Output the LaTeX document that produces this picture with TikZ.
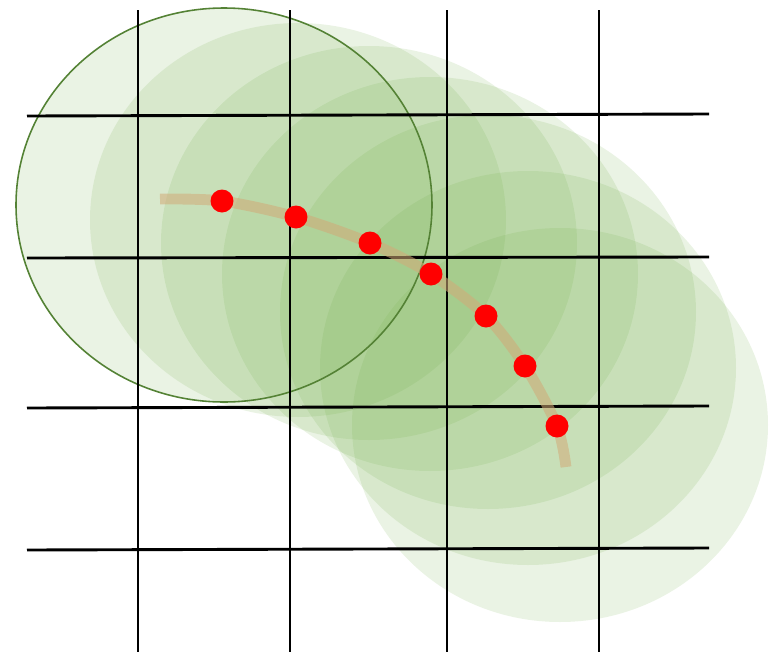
\documentclass[tikz,border=0pt]{standalone}
\usepackage{tikz}

\definecolor{leafgreen}{RGB}{112,173,71}
\definecolor{rimgreen}{RGB}{84,130,53}
\definecolor{pathtan}{RGB}{210,170,120}

\begin{document}
\begin{tikzpicture}[x=0.02cm, y=-0.02cm,
    halo/.style={fill=leafgreen, fill opacity=0.15},
    gridline/.style={black, line width=1.65pt},
    reddot/.style={circle, fill=red, inner sep=0pt, minimum size=0.46cm}]
        \useasboundingbox (0,0) rectangle (775,653);
        % receptive regions
        \foreach \cx/\cy in {224/205, 298/220, 369/243, 430/274, 488/312, 528/368, 560/425}
            \fill[halo] (\cx,\cy) ellipse [x radius=208, y radius=197];
        \draw[rimgreen, line width=0.9pt] (224,205) ellipse [x radius=208, y radius=197];
        % grid
        \foreach \gx in {138,290,447,599}
            \draw[gridline] (\gx,10) -- (\gx,652);
        \foreach \ly/\ry in {116/114, 258/257, 408/406, 550/548}
            \draw[gridline] (27,\ly) -- (709,\ry);
        % trajectory
        \draw[pathtan, opacity=0.55, line width=6.2pt] plot[smooth] coordinates
            {(160,199) (222,201) (296,217) (370,243) (431,274) (486,316) (525,366) (557,426) (566,467)};
        \foreach \px/\py [count=\i] in {222/201, 296/217, 370/243, 431/274, 486/316, 525/366, 557/426}
            \node[reddot] (p\i) at (\px,\py) {};
    \end{tikzpicture}
\end{document}
